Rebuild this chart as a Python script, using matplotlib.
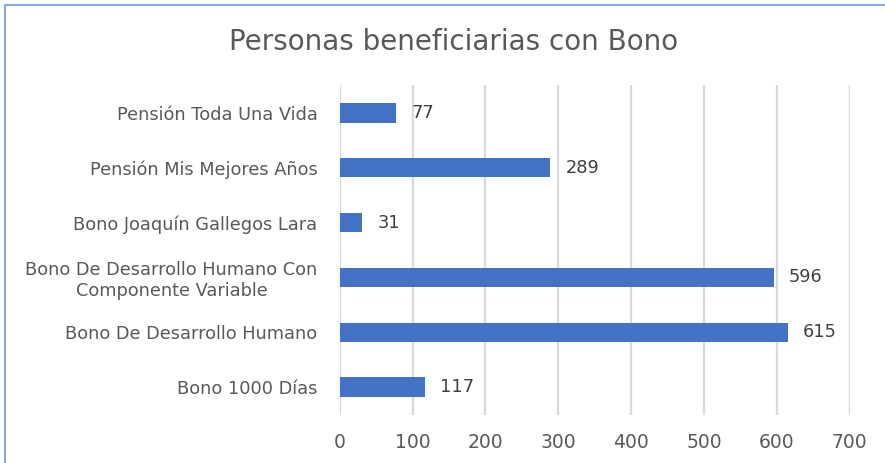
import matplotlib
matplotlib.use("Agg")
import matplotlib.pyplot as plt

categories = ["Bono 1000 Días",
              "Bono De Desarrollo Humano",
              "Bono De Desarrollo Humano Con\nComponente Variable",
              "Bono Joaquín Gallegos Lara",
              "Pensión Mis Mejores Años",
              "Pensión Toda Una Vida"]
values = [117, 615, 596, 31, 289, 77]
xticks = [0, 100, 200, 300, 400, 500, 600, 700]

plt.rcParams["font.family"] = ["DejaVu Sans"]

fig = plt.figure(figsize=(8.85, 4.63), dpi=100)
ax = fig.add_axes([0.384, 0.104, 0.576, 0.712])

ypos = list(range(len(categories)))
ax.barh(ypos, values, height=0.36, color="#4472C4", zorder=3)
for y, v in zip(ypos, values):
    ax.text(v + 21, y, str(v), va="center", ha="left", fontsize=12.8, color="#404040")

ax.set_xlim(0, 700)
ax.set_ylim(-0.5, 5.5)
ax.set_xticks(xticks)
ax.set_xticklabels([str(t) for t in xticks], fontsize=13.5, color="#595959")
ax.set_yticks(ypos)
ax.set_yticklabels(categories, fontsize=12.8, color="#595959", linespacing=1.2,
                   multialignment="center")
ax.tick_params(axis="both", length=0)
ax.tick_params(axis="x", pad=13)
ax.tick_params(axis="y", pad=16)
ax.grid(axis="x", color="#d9d9d9", linewidth=1.6, zorder=0)
for s in ax.spines.values():
    s.set_visible(False)

fig.text(0.512, 0.909, "Personas beneficiarias con Bono", ha="center", va="center",
         fontsize=20, color="#595959")

# chart border (only top and left edges show)
fig.add_artist(plt.Line2D([0.006, 1.0], [0.99, 0.99], transform=fig.transFigure,
                          color="#8EA9DB", linewidth=1.5))
fig.add_artist(plt.Line2D([0.006, 0.006], [0.0, 0.99], transform=fig.transFigure,
                          color="#8EA9DB", linewidth=1.5))

fig.savefig("out.png", dpi=100)
